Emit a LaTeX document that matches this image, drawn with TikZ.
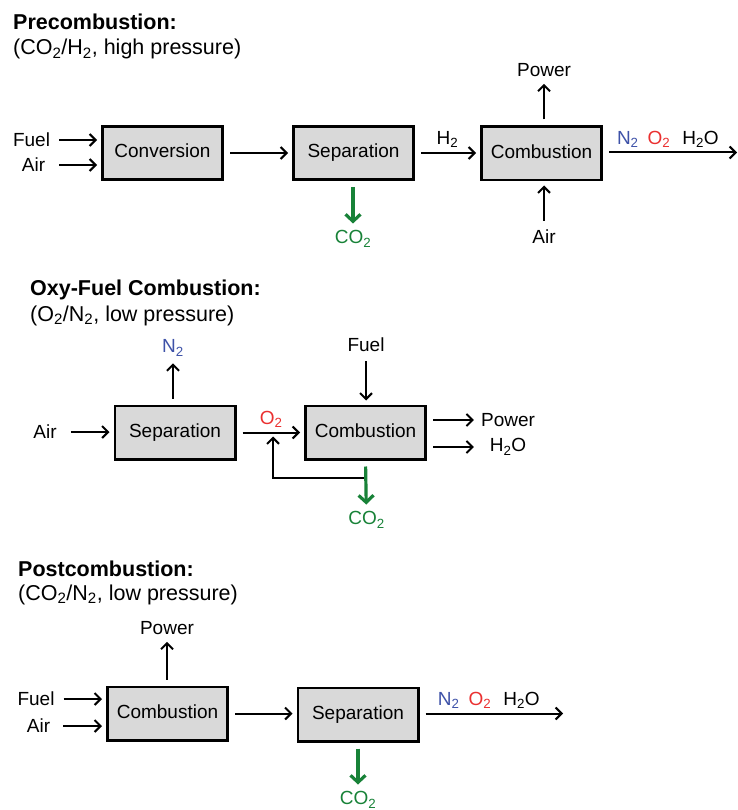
\documentclass[tikz,border=0pt]{standalone}
\usepackage{fontspec}
\setmainfont{Liberation Sans}
\usetikzlibrary{calc,arrows.meta,positioning}
\definecolor{boxGray}{RGB}{217,217,217}
\definecolor{gasBlue}{RGB}{62,82,168}
\definecolor{gasRed}{RGB}{234,48,48}
\definecolor{gasGreen}{RGB}{24,130,56}
\newcommand{\gasmix}{\textcolor{gasBlue}{N\textsubscript{2}}\hspace{9pt}\textcolor{gasRed}{O\textsubscript{2}}\hspace{12pt}H\textsubscript{2}O}

\begin{document}
\begin{tikzpicture}[x=1pt,y=-1pt,
  unit/.style={draw,line width=2.6pt,fill=boxGray,minimum width=120.4pt,minimum height=53.4pt,text height=13.7pt,text depth=4pt,font=\fontsize{19}{22}\selectfont},
  txt/.style={inner sep=3pt,font=\fontsize{19}{22}\selectfont},
  head/.style={anchor=base west,inner sep=0pt,font=\fontsize{21.5}{25}\selectfont\bfseries},
  subhead/.style={anchor=base west,inner sep=0pt,font=\fontsize{21.5}{25}\selectfont},
  flow/.style={line width=2pt,shorten <=6pt,shorten >=4pt,-{Straight Barb[length=6pt,width=12pt]}},
  capture/.style={gasGreen,line width=3.2pt,shorten <=6pt,shorten >=4pt,-{Straight Barb[length=7pt,width=15pt]}}]
\useasboundingbox (0,0) rectangle (737,810);

\node[head] (preTitle) at (13,30) {Precombustion:};
\node[subhead] (preSub) at (13,55) {(CO\textsubscript{2}/H\textsubscript{2}, high pressure)};
\node[unit] (conv) at (162.5,153) {Conversion};
\node[unit] (sepA) at (353.5,153) {Separation};
\node[unit] (combA) at (541.5,153.5) {Combustion};
\node[txt] (fuelA) at (31.5,140) {Fuel};
\node[txt] (airA) at (33.5,165) {Air};
\node[txt] (powerA) at (544,70) {Power};
\node[txt] (airB) at (544,237) {Air};
\node[txt,text=gasGreen] (co2A) at (353,239) {CO\textsubscript{2}};
\coordinate (exitA) at (741,152.5);
\draw[flow] (fuelA.east) -- (conv.west |- fuelA);
\draw[flow] ([xshift=5pt]airA.east) -- (conv.west |- airA);
\draw[flow] (conv) -- (sepA);
\draw[flow] (sepA) -- node[txt,above=1pt] {H\textsubscript{2}} (combA.west |- sepA);
\draw[flow] (combA.north -| powerA) -- (powerA);
\draw[flow] (airB) -- (combA.south -| airB);
\draw[flow] (combA.east |- exitA) -- node[txt,above=1pt,pos=0.47] {\gasmix} (exitA);
\draw[capture] (sepA.south -| co2A) -- (co2A);

\node[head] (oxyTitle) at (30,295) {Oxy-Fuel Combustion:};
\node[subhead] (oxySub) at (30,321) {(O\textsubscript{2}/N\textsubscript{2}, low pressure)};
\node[unit] (sepB) at (175,432.5) {Separation};
\node[unit] (combB) at (365.5,432.5) {Combustion};
\node[txt] (airC) at (45,432) {Air};
\node[txt,text=gasBlue] (n2B) at (173,348) {N\textsubscript{2}};
\node[txt] (fuelB) at (366,345) {Fuel};
\node[txt] (powerB) at (508,420) {Power};
\node[txt] (h2oB) at (508,447) {H\textsubscript{2}O};
\node[txt,text=gasGreen] (co2B) at (366.5,520) {CO\textsubscript{2}};
\coordinate (tap) at (combB.south |- 0,478);
\coordinate (ret) at (273,432.5);
\draw[flow] ([xshift=5pt]airC.east) -- (sepB.west |- airC);
\draw[flow] (sepB.north -| n2B) -- (n2B);
\draw[flow] (fuelB) -- (combB.north -| fuelB);
\draw[flow] (sepB) -- node[txt,above=1pt,text=gasRed,xshift=1pt] {O\textsubscript{2}} (combB);
\draw[flow] (combB.east |- powerB) -- (powerB.west);
\draw[flow] (combB.east |- h2oB) -- (h2oB.west -| powerB.west);
\draw[flow,shorten <=0pt] (tap) -| (ret);
\draw[capture] (combB.south) -- (co2B);

\node[head] (postTitle) at (18,576) {Postcombustion:};
\node[subhead] (postSub) at (18,600) {(CO\textsubscript{2}/N\textsubscript{2}, low pressure)};
\node[unit] (combC) at (167.5,713.5) {Combustion};
\node[unit] (sepC) at (358,714.5) {Separation};
\node[txt] (fuelD) at (36,699) {Fuel};
\node[txt] (airD) at (38.5,726) {Air};
\node[txt] (powerC) at (167,628) {Power};
\node[txt,text=gasGreen] (co2C) at (358,800) {CO\textsubscript{2}};
\coordinate (exitC) at (567,713.5);
\draw[flow] (fuelD.east) -- (combC.west |- fuelD);
\draw[flow] ([xshift=4pt]airD.east) -- (combC.west |- airD);
\draw[flow] (combC.north -| powerC) -- (powerC);
\draw[flow] (combC) -- (sepC.west |- combC);
\draw[flow] (sepC.east |- exitC) -- node[txt,above=1pt,pos=0.47] {\gasmix} (exitC);
\draw[capture] (sepC.south -| co2C) -- (co2C);
\end{tikzpicture}
\end{document}
